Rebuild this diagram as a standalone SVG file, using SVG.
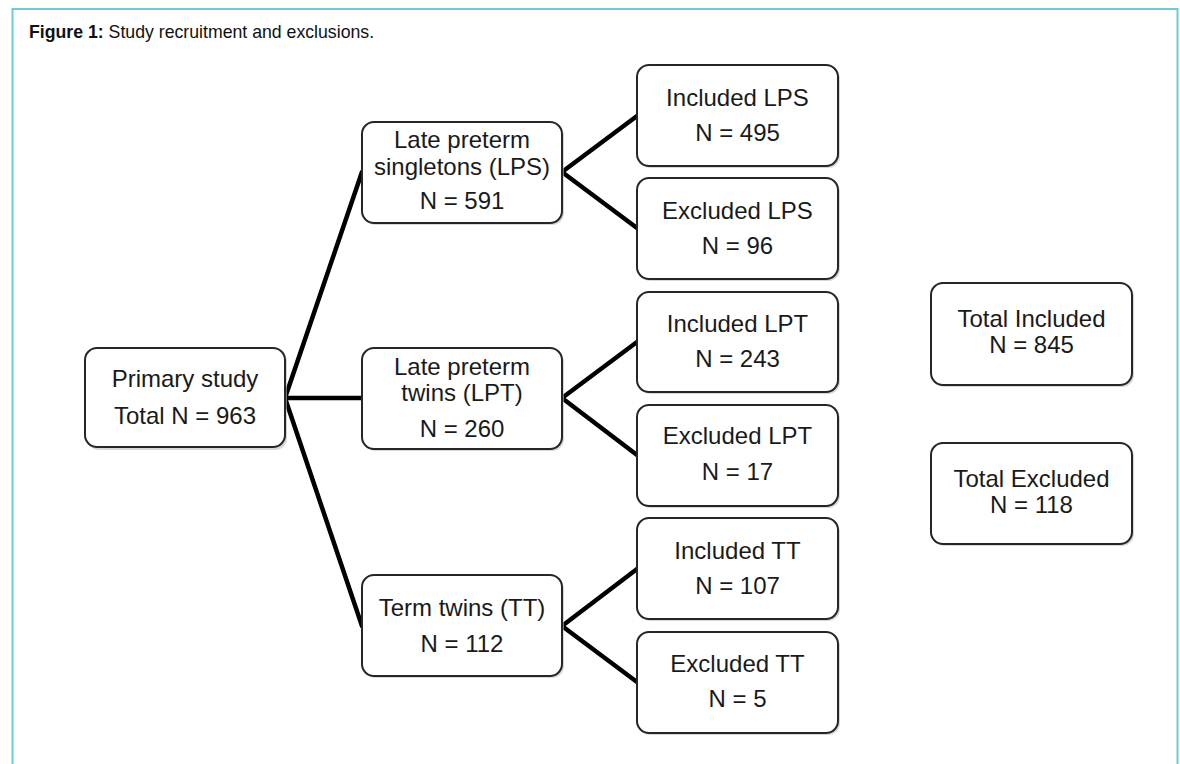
<svg xmlns="http://www.w3.org/2000/svg" width="1180" height="764" viewBox="0 0 1180 764">
<defs>
<style>
.box{fill:#fff;stroke:#262626;stroke-width:2}
.sh{fill:#bdbdbd;stroke:none;opacity:0.6}
.t{font-family:"Liberation Sans",Arial,sans-serif;font-size:24px;fill:#1a1a1a;text-anchor:middle}
.c{stroke:#000;stroke-width:4.5;fill:none;stroke-linecap:round}
.cap{font-family:"Liberation Sans",Arial,sans-serif;font-size:17.7px;fill:#111}
</style>
</defs>
<rect x="0" y="0" width="1180" height="764" fill="#fff"/>
<path d="M12.5,764 V9 H1177.5 V764" fill="none" stroke="#6ccbd9" stroke-width="2"/>
<text class="cap" x="29" y="38"><tspan font-weight="bold">Figure 1:</tspan> Study recruitment and exclusions.</text>
<g id="connectors">
<line class="c" x1="285" y1="398" x2="362" y2="172"/>
<line class="c" x1="285" y1="398" x2="362" y2="398"/>
<line class="c" x1="285" y1="398" x2="362" y2="626"/>
<line class="c" x1="562" y1="172" x2="637" y2="116"/>
<line class="c" x1="562" y1="172" x2="637" y2="228"/>
<line class="c" x1="562" y1="398" x2="637" y2="342"/>
<line class="c" x1="562" y1="398" x2="637" y2="455"/>
<line class="c" x1="562" y1="626" x2="637" y2="569"/>
<line class="c" x1="562" y1="626" x2="637" y2="682"/>
</g>
<g id="primary">
<rect class="sh" x="87" y="350" width="200" height="100" rx="12"/>
<rect class="box" x="85" y="348" width="200" height="99" rx="12"/>
<text class="t" x="185" y="387">Primary study</text>
<text class="t" x="185" y="424">Total N = 963</text>
</g>
<g id="lps">
<rect class="sh" x="364" y="124" width="200" height="101" rx="12"/>
<rect class="box" x="362" y="122" width="200" height="101" rx="12"/>
<text class="t" x="462" y="148">Late preterm</text>
<text class="t" x="462" y="175">singletons (LPS)</text>
<text class="t" x="462" y="209">N = 591</text>
</g>
<g id="lpt">
<rect class="sh" x="364" y="350" width="200" height="101" rx="12"/>
<rect class="box" x="362" y="348" width="200" height="101" rx="12"/>
<text class="t" x="462" y="375">Late preterm</text>
<text class="t" x="462" y="401">twins (LPT)</text>
<text class="t" x="462" y="437">N = 260</text>
</g>
<g id="tt">
<rect class="sh" x="364" y="577" width="200" height="101" rx="12"/>
<rect class="box" x="362" y="575" width="200" height="101" rx="12"/>
<text class="t" x="462" y="616">Term twins (TT)</text>
<text class="t" x="462" y="652">N = 112</text>
</g>
<g id="inc-lps">
<rect class="sh" x="639" y="67" width="201" height="101" rx="12"/>
<rect class="box" x="637" y="65" width="201" height="101" rx="12"/>
<text class="t" x="737.5" y="106">Included LPS</text>
<text class="t" x="737.5" y="141">N = 495</text>
</g>
<g id="exc-lps">
<rect class="sh" x="639" y="180" width="201" height="101" rx="12"/>
<rect class="box" x="637" y="178" width="201" height="101" rx="12"/>
<text class="t" x="737.5" y="219">Excluded LPS</text>
<text class="t" x="737.5" y="254">N = 96</text>
</g>
<g id="inc-lpt">
<rect class="sh" x="639" y="294" width="201" height="100" rx="12"/>
<rect class="box" x="637" y="292" width="201" height="100" rx="12"/>
<text class="t" x="737.5" y="332">Included LPT</text>
<text class="t" x="737.5" y="367">N = 243</text>
</g>
<g id="exc-lpt">
<rect class="sh" x="639" y="407" width="201" height="101" rx="12"/>
<rect class="box" x="637" y="405" width="201" height="101" rx="12"/>
<text class="t" x="737.5" y="444">Excluded LPT</text>
<text class="t" x="737.5" y="480">N = 17</text>
</g>
<g id="inc-tt">
<rect class="sh" x="639" y="520" width="201" height="101" rx="12"/>
<rect class="box" x="637" y="518" width="201" height="101" rx="12"/>
<text class="t" x="737.5" y="559">Included TT</text>
<text class="t" x="737.5" y="594">N = 107</text>
</g>
<g id="exc-tt">
<rect class="sh" x="639" y="634" width="201" height="101" rx="12"/>
<rect class="box" x="637" y="632" width="201" height="101" rx="12"/>
<text class="t" x="737.5" y="672">Excluded TT</text>
<text class="t" x="737.5" y="707">N = 5</text>
</g>
<g id="total-inc">
<rect class="sh" x="933" y="285" width="201" height="102" rx="12"/>
<rect class="box" x="931" y="283" width="201" height="102" rx="12"/>
<text class="t" x="1031.5" y="327">Total Included</text>
<text class="t" x="1031.5" y="353">N = 845</text>
</g>
<g id="total-exc">
<rect class="sh" x="933" y="445" width="201" height="101" rx="12"/>
<rect class="box" x="931" y="443" width="201" height="101" rx="12"/>
<text class="t" x="1031.5" y="487">Total Excluded</text>
<text class="t" x="1031.5" y="513">N = 118</text>
</g>
</svg>
